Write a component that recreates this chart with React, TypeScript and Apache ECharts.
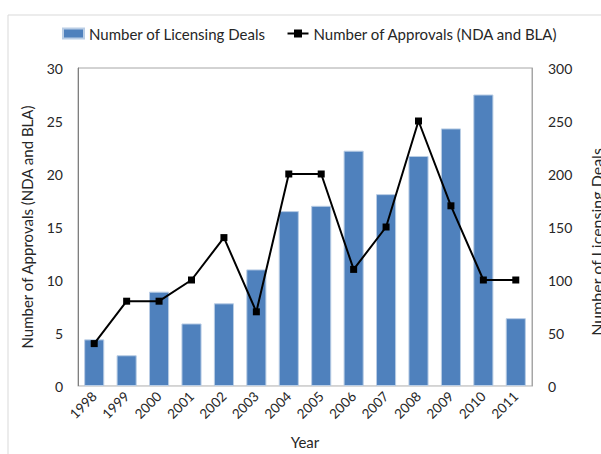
import React, { useEffect, useRef } from "react";
import * as echarts from "echarts";

const years = ["1998", "1999", "2000", "2001", "2002", "2003", "2004", "2005", "2006", "2007", "2008", "2009", "2010", "2011"];
const licensingDeals = [44, 29, 89, 59, 78, 110, 165, 170, 222, 181, 217, 243, 275, 64];
const approvals = [4, 8, 8, 10, 14, 7, 20, 20, 11, 15, 25, 17, 10, 10];

const FONT = "Lato";
const TXT = "#262626";

export default function App() {
  const ref = useRef<HTMLDivElement>(null);
  useEffect(() => {
    document.body.style.margin = "0";
    const chart = echarts.init(ref.current!, null, { renderer: "svg" });
    chart.setOption({
      animation: false,
      textStyle: { fontFamily: FONT, color: TXT },
      graphic: [
        {
          type: "rect",
          shape: { x: 8, y: 15, width: 700, height: 500 },
          style: { fill: "none", stroke: "#d9d9d9", lineWidth: 1 },
          silent: true,
        },
      ],
      legend: {
        top: 26,
        left: 62,
        padding: 0,
        itemGap: 21,
        itemWidth: 21,
        itemHeight: 10,
        textStyle: { fontFamily: FONT, fontSize: 15, color: TXT },
        data: [
          { name: "Number of Licensing Deals", icon: "rect" },
          { name: "Number of Approvals (NDA and BLA)" },
        ],
      },
      grid: {
        left: 78,
        right: 69,
        top: 68,
        bottom: 68,
        show: true,
        borderColor: "#a6a6a6",
        borderWidth: 1,
        containLabel: false,
        outerBoundsMode: "none",
      },
      xAxis: {
        type: "category",
        data: years,
        name: "Year",
        nameLocation: "middle",
        nameGap: 48,
        nameTextStyle: { fontFamily: FONT, fontSize: 15, color: TXT },
        axisLine: { lineStyle: { color: "#d9d9d9" } },
        axisTick: { show: false },
        axisLabel: { rotate: 45, fontFamily: FONT, fontSize: 13.5, color: TXT, margin: 8 },
      },
      yAxis: [
        {
          type: "value",
          min: 0,
          max: 30,
          interval: 5,
          name: "Number of Approvals (NDA and BLA)",
          nameLocation: "middle",
          nameGap: 44,
          nameTextStyle: { fontFamily: FONT, fontSize: 15, color: TXT },
          axisLine: { show: true, lineStyle: { color: "#7f7f7f" } },
          axisTick: { show: false },
          splitLine: { show: false },
          axisLabel: { fontFamily: FONT, fontSize: 14, color: TXT, margin: 15 },
        },
        {
          type: "value",
          min: 0,
          max: 300,
          interval: 50,
          name: "Number of Licensing Deals",
          nameLocation: "middle",
          nameGap: 56,
          nameTextStyle: { fontFamily: FONT, fontSize: 16, color: TXT, padding: [0, 30, 0, 0] },
          axisLine: { show: true, lineStyle: { color: "#a6a6a6" } },
          axisTick: { show: false },
          splitLine: { show: false },
          axisLabel: { fontFamily: FONT, fontSize: 14, color: TXT, margin: 16 },
        },
      ],
      series: [
        {
          name: "Number of Licensing Deals",
          type: "bar",
          yAxisIndex: 1,
          data: licensingDeals,
          barCategoryGap: "38%",
          itemStyle: { color: "#4F81BD", borderColor: "#b9cde5", borderWidth: 1 },
        },
        {
          name: "Number of Approvals (NDA and BLA)",
          type: "line",
          yAxisIndex: 0,
          data: approvals,
          symbol: "rect",
          symbolSize: 7,
          lineStyle: { color: "#000", width: 2 },
          itemStyle: { color: "#000" },
        },
      ],
    });
    return () => chart.dispose();
  }, []);
  return <div ref={ref} style={{ width: 601, height: 454 }} />;
}
